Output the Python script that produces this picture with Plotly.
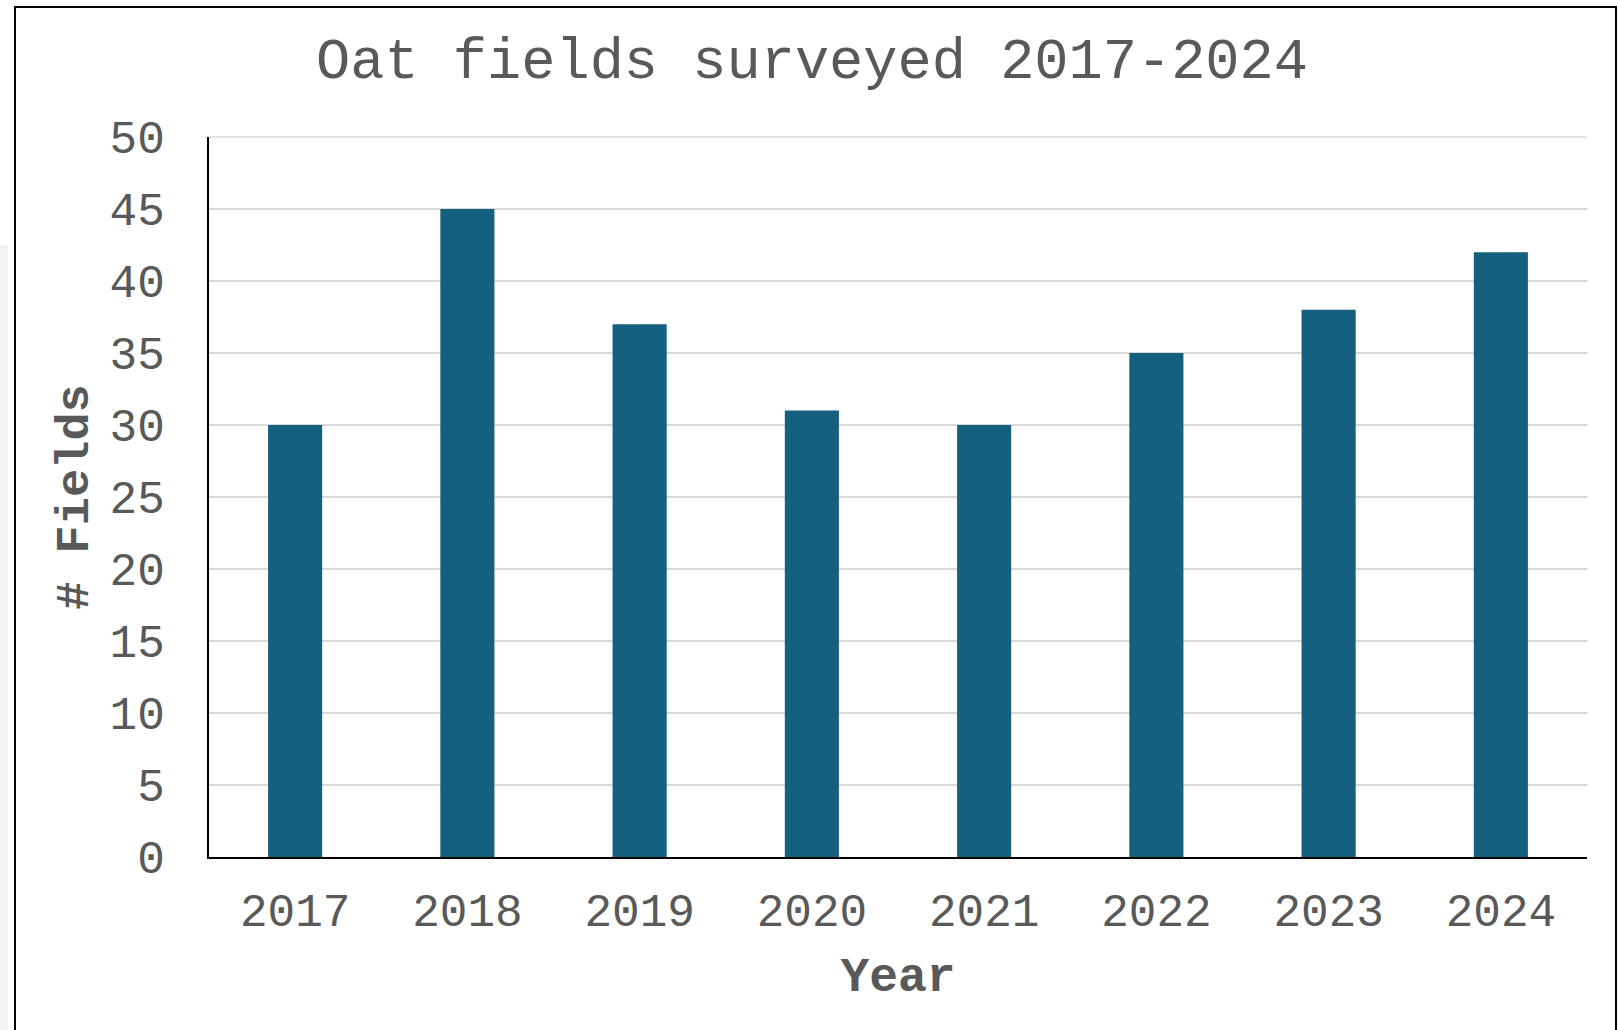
import plotly.graph_objects as go

# Survey counts per year
years = ["2017", "2018", "2019", "2020", "2021", "2022", "2023", "2024"]
fields = [30, 45, 37, 31, 30, 35, 38, 42]
y_ticks = [0, 5, 10, 15, 20, 25, 30, 35, 40, 45, 50]

W, H = 1618, 1030
L, R, T, B = 209, 31, 137, 173
pw, ph = W - L - R, H - T - B


def px_x(p):
    return (p - L) / pw


def px_y(p):
    return (H - B - p) / ph


FONT = "Liberation Mono, Courier New, monospace"
TXT = "#595959"
GRID = "#d9d9d9"

fig = go.Figure(
    go.Bar(
        x=years,
        y=fields,
        marker=dict(color="#16607f", line=dict(width=0)),
        width=0.314,
    )
)

fig.update_layout(
    width=W,
    height=H,
    margin=dict(l=L, r=R, t=T, b=B),
    paper_bgcolor="white",
    plot_bgcolor="white",
    showlegend=False,
    title=dict(
        text="Oat fields surveyed 2017-2024",
        font=dict(family=FONT, size=57, color=TXT),
        x=px_x(812),
        xref="paper",
        xanchor="center",
        y=1 - 58 / H,
        yref="container",
        yanchor="middle",
    ),
    shapes=[
        # chart frame
        dict(type="rect", xref="paper", yref="paper",
             x0=px_x(15), x1=px_x(1616), y0=px_y(1040), y1=px_y(7),
             line=dict(color="black", width=2), fillcolor="rgba(0,0,0,0)",
             layer="below"),
        # narrow grey strip on the far left
        dict(type="rect", xref="paper", yref="paper",
             x0=px_x(0), x1=px_x(8), y0=px_y(1040), y1=px_y(245),
             line=dict(width=0), fillcolor="#f2f2f2", layer="below"),
        # gridline along the top edge of the value axis (range max = 50)
        dict(type="line", xref="paper", yref="paper",
             x0=0, x1=1, y0=1, y1=1,
             line=dict(color=GRID, width=1.5), layer="below"),
    ],
)

fig.update_xaxes(
    type="category",
    showline=True,
    linecolor="black",
    linewidth=2,
    showgrid=False,
    ticks="",
    tickfont=dict(family=FONT, size=46, color=TXT),
    ticklabelstandoff=12,
    title=dict(text="<b>Year</b>", font=dict(family=FONT, size=48, color=TXT), standoff=18),
)

fig.update_yaxes(
    range=[y_ticks[0], y_ticks[-1]],
    tickvals=y_ticks,
    showline=True,
    linecolor="black",
    linewidth=2,
    showgrid=True,
    gridcolor=GRID,
    gridwidth=1.5,
    zeroline=False,
    ticks="",
    tickfont=dict(family=FONT, size=46, color=TXT),
    ticklabelstandoff=33,
    title=dict(text="<b># Fields</b>", font=dict(family=FONT, size=47, color=TXT), standoff=6),
)

fig.write_html("out.html")
